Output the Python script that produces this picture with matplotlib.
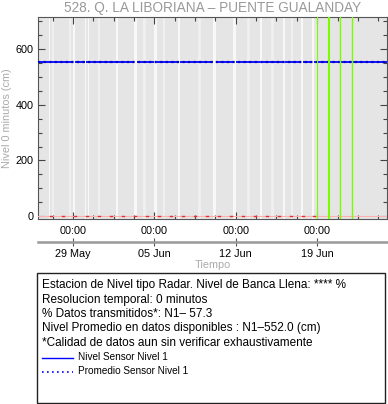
import numpy as np
import pandas as pd
import matplotlib
matplotlib.use("Agg")
import matplotlib.pyplot as plt
import matplotlib.dates as mdates
from matplotlib.ticker import MultipleLocator, FixedLocator
from matplotlib.patches import Rectangle

plt.rcParams['font.family'] = ['Liberation Sans', 'DejaVu Sans']

# ---- data ----
title = "528. Q. LA LIBORIANA \u2013 PUENTE GUALANDAY"
x_start, x_end = "2023-05-26 00:00", "2023-06-25 00:00"
date_ticks = ["2023-05-29", "2023-06-05", "2023-06-12", "2023-06-19"]
date_labels = ["29 May", "05 Jun", "12 Jun", "19 Jun"]

nivel_promedio = 552.0          # cm
nivel_sensor = 552.0            # cm, level recorded while transmitting

# periods without transmission (start, hours)
gap_start = ["2023-05-26 22:00", "2023-05-29 00:00", "2023-05-30 01:00", "2023-05-30 07:00",
             "2023-06-01 17:00", "2023-06-03 07:00", "2023-06-05 00:00", "2023-06-07 00:00",
             "2023-06-10 02:00", "2023-06-11 19:00", "2023-06-14 01:00", "2023-06-16 02:00",
             "2023-06-17 15:00", "2023-06-18 14:00"]
gap_hours = [3, 4, 3, 3, 5, 5, 5, 5, 5, 5, 6, 4, 4, 4]

# periods with partial transmission (start, hours)
partial_start = ["2023-05-27 05:00", "2023-05-28 15:00", "2023-05-31 03:00", "2023-06-04 01:00",
                 "2023-06-05 18:00", "2023-06-08 18:00", "2023-06-13 00:00", "2023-06-15 00:00",
                 "2023-06-16 18:00"]
partial_hours = [5, 6, 5, 6, 5, 6, 5, 6, 5]

# short readings of the second sensor near zero
rojo_start = ["2023-05-27 00:00", "2023-05-28 02:00", "2023-05-29 02:00", "2023-05-30 03:00",
              "2023-05-31 04:00", "2023-06-01 05:00", "2023-06-02 06:00", "2023-06-03 06:00",
              "2023-06-04 07:00", "2023-06-05 08:00", "2023-06-06 08:00", "2023-06-07 09:00",
              "2023-06-08 10:00", "2023-06-09 10:00", "2023-06-10 11:00", "2023-06-11 12:00",
              "2023-06-12 12:00", "2023-06-13 13:00", "2023-06-14 14:00", "2023-06-15 15:00",
              "2023-06-16 15:00", "2023-06-17 16:00", "2023-06-18 16:00"]
rojo_valor = 0.0

# alert markers
alerta_fechas = ["2023-06-19 00:00", "2023-06-20 00:00", "2023-06-21 00:00", "2023-06-22 00:00"]
alerta_ancho = [0.8, 1.5, 1.0, 1.0]

info_lines = [
    "Estacion de Nivel tipo Radar. Nivel de Banca Llena: **** %",
    "Resolucion temporal: 0 minutos",
    "% Datos transmitidos*: N1\u2013 57.3",
    "Nivel Promedio en datos disponibles : N1\u2013552.0 (cm)",
    "*Calidad de datos aun sin verificar exhaustivamente",
]
legend_labels = ["Nivel Sensor Nivel 1", "Promedio Sensor Nivel 1"]

# ---- figure ----
W, H = 388, 404
fig = plt.figure(figsize=(W / 100, H / 100), dpi=100)

def fx(px):
    return px / W

def fy(py):
    return 1 - py / H

ax_l, ax_r, ax_t, ax_b = 38, 387, 17, 219
ax = fig.add_axes([fx(ax_l), fy(ax_b), fx(ax_r - ax_l), (ax_b - ax_t) / H])
ax.set_facecolor("#e5e5e5")

t0, t1 = pd.Timestamp(x_start), pd.Timestamp(x_end)
ax.set_xlim(t0, t1)
ax.set_ylim(-10, 715)

for s, h in zip(partial_start, partial_hours):
    a = pd.Timestamp(s)
    ax.axvspan(a, a + pd.Timedelta(hours=h), color="#efefef", lw=0, zorder=1)
for s, h in zip(gap_start, gap_hours):
    a = pd.Timestamp(s)
    ax.axvspan(a, a + pd.Timedelta(hours=h), color="#f8f8f8", lw=0, zorder=1)

# sensor level: solid segments between gaps
edges = [t0]
for s, h in zip(gap_start, gap_hours):
    a = pd.Timestamp(s)
    edges += [a, a + pd.Timedelta(hours=h)]
edges.append(t1)
for a, b in zip(edges[0::2], edges[1::2]):
    ax.plot([a, b], [nivel_sensor, nivel_sensor], color="#0000ff", lw=1.3, zorder=4,
            solid_capstyle="butt")
ax.plot([t0, t1], [nivel_promedio, nivel_promedio], color="#0000cc", lw=1.6,
        ls=(0, (1, 1.5)), zorder=5)

# second sensor near zero
ax.plot([t0, t1], [rojo_valor, rojo_valor], color="#ffb0b0", lw=0.8, zorder=3)
for s in rojo_start:
    a = pd.Timestamp(s)
    ax.plot([a, a + pd.Timedelta(hours=4)], [rojo_valor, rojo_valor], color="#e03030",
            lw=1.0, zorder=3)

for d, w in zip(alerta_fechas, alerta_ancho):
    ax.axvline(pd.Timestamp(d), color="#7cfc00", lw=w, zorder=6)

# axes styling
tick_pos = [mdates.date2num(pd.Timestamp(d)) for d in date_ticks]
ax.xaxis.set_major_locator(FixedLocator(tick_pos))
ax.xaxis.set_minor_locator(MultipleLocator(1.75, offset=tick_pos[0] % 1.75))
ax.set_xticklabels(["00:00"] * len(tick_pos))
ax.yaxis.set_major_locator(MultipleLocator(200))
ax.yaxis.set_minor_locator(MultipleLocator(50))
ax.tick_params(which="both", direction="in", top=True, right=True, colors="#444444",
               labelcolor="black", labelsize=7.8)
ax.tick_params(which="major", length=5, width=0.8)
ax.tick_params(which="minor", length=3, width=0.8)
ax.tick_params(axis="x", pad=5)
ax.tick_params(axis="y", pad=3)
for sp in ax.spines.values():
    sp.set_color("#555555")
    sp.set_linewidth(0.8)

ax.set_ylabel("Nivel 0 minutos (cm)", color="#aaaaaa", fontsize=7.8, labelpad=3)
fig.text(fx((ax_l + ax_r) / 2), fy(8), title, ha="center", va="center",
         color="#999999", fontsize=9.8)

# secondary date axis
ax2 = fig.add_axes([fx(ax_l), fy(242), fx(ax_r - ax_l), 0.0001])
ax2.set_xlim(t0, t1)
ax2.set_yticks([])
ax2.patch.set_alpha(0)
for k in ["top", "left", "right"]:
    ax2.spines[k].set_visible(False)
ax2.spines["bottom"].set_color("#999999")
ax2.spines["bottom"].set_linewidth(1.8)
ax2.xaxis.set_major_locator(FixedLocator(tick_pos))
ax2.set_xticklabels(date_labels)
ax2.tick_params(axis="x", direction="inout", length=6, width=0.8, colors="#555555",
                labelcolor="black", labelsize=7.8, pad=2)
fig.text(fx((ax_l + ax_r) / 2), fy(265), "Tiempo", ha="center", va="center",
         color="#aaaaaa", fontsize=7.8)

# information box
fig.patches.append(Rectangle((fx(37), fy(403)), fx(385 - 37), (403 - 273) / H,
                             transform=fig.transFigure, fill=False, ec="#222222", lw=1.0))
for i, line in enumerate(info_lines):
    fig.text(fx(42), fy(285 + i * 14.5), line, ha="left", va="center", fontsize=8.5,
             color="black")
fig.add_artist(plt.Line2D([fx(42), fx(73)], [fy(358), fy(358)], color="#0000ff", lw=1.0,
                          transform=fig.transFigure))
fig.add_artist(plt.Line2D([fx(42), fx(73)], [fy(372), fy(372)], color="#0000ff", lw=1.2,
                          ls=(0, (1, 2)), transform=fig.transFigure))
fig.text(fx(78), fy(357), legend_labels[0], ha="left", va="center", fontsize=7.2)
fig.text(fx(78), fy(371), legend_labels[1], ha="left", va="center", fontsize=7.2)

fig.savefig("out.png", dpi=100)
